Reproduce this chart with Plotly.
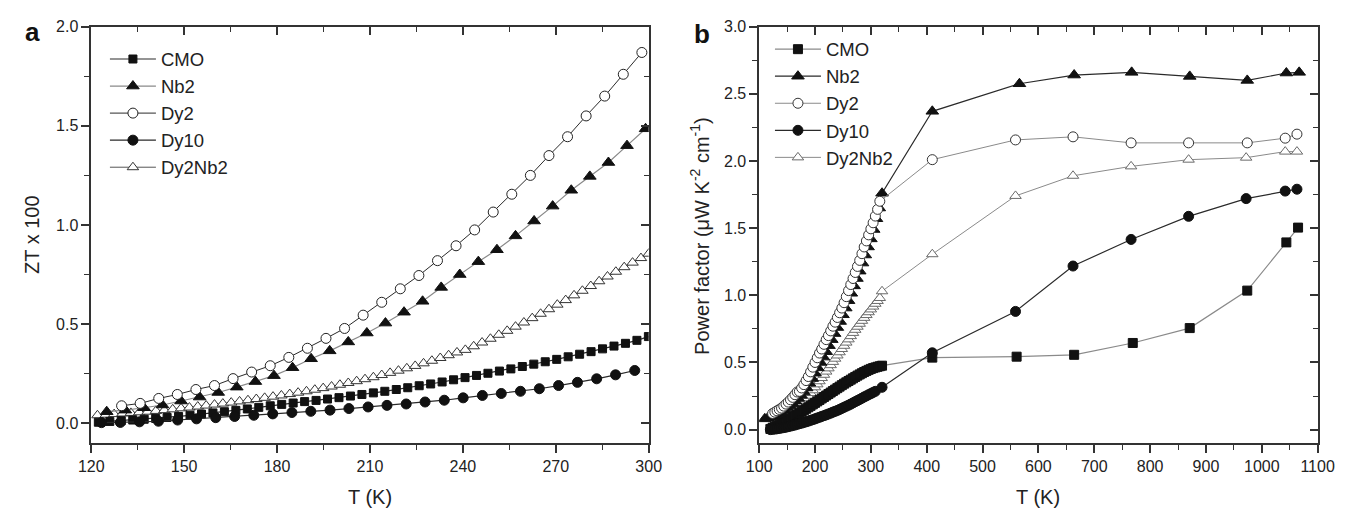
import plotly.graph_objects as go

# ---------------- Panel a : ZT x 100 vs T ----------------
a_cmo_T = [122.3, 126.0, 129.7, 133.4, 137.1, 140.8, 144.5, 148.2, 151.9, 155.6, 159.3, 163.0, 166.7, 170.4,
           174.1, 177.8, 181.5, 185.2, 188.9, 192.6, 196.3, 200.0, 203.7, 207.4, 211.1, 214.8, 218.5, 222.2,
           225.9, 229.6, 233.3, 237.0, 240.7, 244.4, 248.1, 251.8, 255.5, 259.2, 262.9, 266.6, 270.3, 274.0,
           277.7, 281.4, 285.1, 288.8, 292.5, 296.2, 299.9]
a_cmo_ZT = [0.005, 0.009, 0.013, 0.016, 0.020, 0.024, 0.029, 0.034, 0.040, 0.046, 0.052, 0.058, 0.065, 0.072,
            0.080, 0.088, 0.095, 0.102, 0.109, 0.115, 0.122, 0.129, 0.137, 0.145, 0.153, 0.161, 0.170, 0.179,
            0.189, 0.198, 0.208, 0.219, 0.230, 0.241, 0.252, 0.263, 0.274, 0.286, 0.298, 0.310, 0.322, 0.335,
            0.348, 0.361, 0.375, 0.389, 0.403, 0.418, 0.437]

a_nb2_T = [125, 131, 137, 143, 149, 155, 161, 167, 173, 179, 185, 191, 197, 203, 209, 215, 221, 227, 233, 239,
           245, 251, 257, 263, 269, 275, 281, 287, 293, 299]
a_nb2_ZT = [0.058, 0.066, 0.078, 0.092, 0.112, 0.132, 0.155, 0.182, 0.210, 0.240, 0.280, 0.325, 0.365, 0.410,
            0.455, 0.505, 0.560, 0.615, 0.685, 0.750, 0.815, 0.875, 0.945, 1.020, 1.095, 1.175, 1.245, 1.315,
            1.400, 1.485]

a_dy2_T = [129.8, 135.8, 141.8, 147.8, 153.8, 159.8, 165.8, 171.8, 177.8, 183.8, 189.8, 195.8, 201.8, 207.8,
           213.8, 219.8, 225.8, 231.8, 237.8, 243.8, 249.8, 255.8, 261.8, 267.8, 273.8, 279.8, 285.8, 291.8, 297.8]
a_dy2_ZT = [0.088, 0.100, 0.125, 0.145, 0.170, 0.190, 0.225, 0.258, 0.290, 0.332, 0.378, 0.428, 0.478, 0.545,
            0.610, 0.678, 0.745, 0.820, 0.895, 0.975, 1.065, 1.155, 1.250, 1.350, 1.445, 1.550, 1.650, 1.760, 1.870]

a_dy10_T = [123.3, 129.4, 135.6, 141.7, 147.9, 154.0, 160.2, 166.3, 172.5, 178.6, 184.8, 190.9, 197.1, 203.2,
            209.4, 215.5, 221.7, 227.8, 234.0, 240.1, 246.3, 252.4, 258.6, 264.7, 270.9, 277.0, 283.2, 289.3, 295.5]
a_dy10_ZT = [0.003, 0.004, 0.007, 0.010, 0.016, 0.022, 0.028, 0.034, 0.040, 0.047, 0.054, 0.060, 0.066, 0.074,
             0.082, 0.090, 0.097, 0.107, 0.116, 0.128, 0.140, 0.150, 0.161, 0.174, 0.190, 0.206, 0.224, 0.244, 0.266]

a_dy2nb2_T = [122.0, 124.7, 127.4, 130.1, 132.8, 135.5, 138.2, 140.9, 143.6, 146.3, 149.0, 151.7, 154.4, 157.1,
              159.8, 162.5, 165.2, 167.9, 170.6, 173.3, 176.0, 178.7, 181.4, 184.1, 186.8, 189.5, 192.2, 194.9,
              197.6, 200.3, 203.0, 205.7, 208.4, 211.1, 213.8, 216.5, 219.2, 221.9, 224.6, 227.3, 230.0, 232.7,
              235.4, 238.1, 240.8, 243.5, 246.2, 248.9, 251.6, 254.3, 257.0, 259.7, 262.4, 265.1, 267.8, 270.5,
              273.2, 275.9, 278.6, 281.3, 284.0, 286.7, 289.4, 292.1, 294.8, 297.5, 300.0]
a_dy2nb2_ZT = [0.040, 0.043, 0.046, 0.049, 0.052, 0.055, 0.058, 0.062, 0.066, 0.070,
               0.075, 0.079, 0.084, 0.089, 0.094, 0.099, 0.104, 0.110, 0.116, 0.122,
               0.128, 0.134, 0.140, 0.147, 0.154, 0.161, 0.169, 0.177, 0.185, 0.194,
               0.203, 0.212, 0.222, 0.232, 0.243, 0.254, 0.265, 0.277, 0.289, 0.302,
               0.315, 0.329, 0.343, 0.357,
               0.370, 0.388, 0.407, 0.426, 0.446, 0.466, 0.487, 0.508, 0.530, 0.552, 0.575, 0.598,
               0.621, 0.645, 0.668, 0.692, 0.716, 0.740, 0.764, 0.787, 0.810, 0.833, 0.855]

# ---------------- Panel b : power factor vs T ----------------
b_cmo_T = [120, 124, 128, 132, 136, 140, 144, 148, 152, 156, 160, 164, 168, 172, 176, 180, 184, 188, 192, 196,
           200, 204, 208, 212, 216, 220, 224, 228, 232, 236, 240, 244, 248, 252, 256, 260, 264, 268, 272, 276,
           280, 284, 288, 292, 296, 300, 304, 308, 312, 316, 320, 410, 561, 664, 769, 871, 974, 1044, 1065]
b_cmo_PF = [0.005, 0.012, 0.020, 0.028, 0.036, 0.045, 0.054, 0.063, 0.072, 0.082, 0.092, 0.102, 0.112, 0.122,
            0.133, 0.144, 0.155, 0.166, 0.177, 0.188, 0.199, 0.210, 0.221, 0.232, 0.243, 0.254, 0.265, 0.276,
            0.287, 0.298, 0.309, 0.320, 0.331, 0.342, 0.352, 0.362, 0.372, 0.382, 0.392, 0.402, 0.411, 0.420,
            0.429, 0.437, 0.445, 0.452, 0.458, 0.463, 0.468, 0.472, 0.476, 0.536, 0.543, 0.557, 0.645, 0.756,
            1.035, 1.394, 1.504]

b_nb2_T = [110, 115, 120, 125, 130, 135, 140, 145, 150, 155, 160, 165, 170, 175, 180, 185, 190, 195, 200, 205,
           210, 215, 220, 225, 230, 235, 240, 245, 250, 255, 260, 265, 270, 275, 280, 285, 290, 295, 300, 305,
           310, 315, 320, 410, 566, 664, 767, 871, 974, 1044, 1067]
b_nb2_PF = [0.080, 0.085, 0.092, 0.100, 0.110, 0.120, 0.132, 0.145, 0.160, 0.176, 0.193, 0.212, 0.232, 0.255,
            0.280, 0.310, 0.345, 0.380, 0.420, 0.460, 0.500, 0.540, 0.580, 0.625, 0.670, 0.715, 0.760, 0.805,
            0.855, 0.905, 0.960, 1.015, 1.070, 1.125, 1.180, 1.240, 1.300, 1.360, 1.420, 1.490, 1.570, 1.650,
            1.760, 2.370, 2.575, 2.640, 2.660, 2.630, 2.600, 2.655, 2.660]

b_dy2_T = [124, 128, 132, 136, 140, 144, 148, 152, 156, 160, 164, 168, 172, 176, 180, 184, 188, 192, 196, 200,
           204, 208, 212, 216, 220, 224, 228, 232, 236, 240, 244, 248, 252, 256, 260, 264, 268, 272, 276, 280,
           284, 288, 292, 296, 300, 304, 308, 312, 316, 410, 559, 662, 766, 869, 974, 1042, 1063]
b_dy2_PF = [0.120, 0.130, 0.140, 0.150, 0.160, 0.175, 0.190, 0.205, 0.222, 0.240, 0.260, 0.280, 0.285, 0.310,
            0.335, 0.365, 0.395, 0.430, 0.465, 0.500, 0.535, 0.570, 0.600, 0.635, 0.670, 0.700, 0.735, 0.770,
            0.800, 0.835, 0.870, 0.905, 0.945, 0.990, 1.035, 1.080, 1.125, 1.170, 1.215, 1.260, 1.310, 1.360,
            1.405, 1.450, 1.495, 1.540, 1.590, 1.640, 1.700, 2.010, 2.157, 2.180, 2.135, 2.135, 2.135, 2.170, 2.200]

b_dy10_T = [120, 124, 128, 132, 136, 140, 144, 148, 152, 156, 160, 164, 168, 172, 176, 180, 184, 188, 192, 196,
            200, 204, 208, 212, 216, 220, 224, 228, 232, 236, 240, 244, 248, 252, 256, 260, 264, 268, 272, 276,
            280, 284, 288, 292, 296, 300, 304, 308, 320, 410, 559, 662, 766, 869, 972, 1042, 1063]
b_dy10_PF = [0.000, 0.002, 0.004, 0.006, 0.009, 0.012, 0.015, 0.018, 0.022, 0.026, 0.030, 0.034, 0.039, 0.044,
             0.048, 0.053, 0.058, 0.063, 0.069, 0.074, 0.080, 0.086, 0.092, 0.098, 0.104, 0.110, 0.116, 0.123,
             0.130, 0.136, 0.143, 0.150, 0.158, 0.166, 0.174, 0.182, 0.190, 0.199, 0.208, 0.216, 0.225, 0.234,
             0.243, 0.251, 0.260, 0.268, 0.277, 0.285, 0.315, 0.572, 0.880, 1.218, 1.416, 1.588, 1.720, 1.776, 1.790]

b_dy2nb2_T = [124, 128, 132, 136, 140, 144, 148, 152, 156, 160, 164, 168, 172, 176, 180, 184, 188, 192, 196, 200,
              204, 208, 212, 216, 220, 224, 228, 232, 236, 240, 244, 248, 252, 256, 260, 264, 268, 272, 276, 280,
              284, 288, 292, 296, 300, 304, 308, 312, 316, 320, 410, 559, 662, 766, 869, 972, 1042, 1063]
b_dy2nb2_PF = [0.050, 0.058, 0.066, 0.075, 0.084, 0.094, 0.105, 0.116, 0.128, 0.140, 0.153, 0.167, 0.182, 0.198,
               0.215, 0.233, 0.252, 0.272, 0.293, 0.315, 0.337, 0.360, 0.384, 0.408, 0.432, 0.456, 0.480, 0.504,
               0.528, 0.552, 0.576, 0.600, 0.624, 0.648, 0.672, 0.696, 0.720, 0.743, 0.766, 0.788, 0.810, 0.832,
               0.853, 0.874, 0.895, 0.916, 0.937, 0.958, 0.980, 1.030, 1.306, 1.740, 1.890, 1.960, 2.010, 2.025,
               2.070, 2.070]

series_names = ["CMO", "Nb2", "Dy2", "Dy10", "Dy2Nb2"]

# ---------------- styling ----------------
W, H = 1362, 508
FONT = "Liberation Sans, Arial, Helvetica, sans-serif"
DARK = "#2a2a2a"
GRAY = "#8a8a8a"


def px_x(p):
    return p / W


def px_y(p):
    return 1 - p / H


a_dom_x = [px_x(80), px_x(650)]
b_dom_x = [px_x(763), px_x(1334)]
dom_y = [px_y(442), px_y(19)]

styles_a = {
    "CMO": dict(symbol="square", size=8, color="#111", lc=DARK, lw=1.2, open=False),
    "Nb2": dict(symbol="triangle-up", size=11, color="#111", lc=GRAY, lw=1.2, open=False),
    "Dy2": dict(symbol="circle", size=10, color="white", lc=DARK, lw=1.0, open=True),
    "Dy10": dict(symbol="circle", size=10, color="#111", lc=DARK, lw=1.2, open=False),
    "Dy2Nb2": dict(symbol="triangle-up", size=10, color="white", lc="#555", lw=1.0, open=True),
}
styles_b = {
    "CMO": dict(symbol="square", size=9, color="#111", lc=GRAY, lw=1.2, open=False),
    "Nb2": dict(symbol="triangle-up", size=11, color="#111", lc=DARK, lw=1.2, open=False),
    "Dy2": dict(symbol="circle", size=10, color="white", lc=GRAY, lw=1.0, open=True),
    "Dy10": dict(symbol="circle", size=10, color="#111", lc=DARK, lw=1.2, open=False),
    "Dy2Nb2": dict(symbol="triangle-up", size=10, color="white", lc=GRAY, lw=1.0, open=True),
}

data_a = {
    "CMO": (a_cmo_T, a_cmo_ZT), "Nb2": (a_nb2_T, a_nb2_ZT), "Dy2": (a_dy2_T, a_dy2_ZT),
    "Dy10": (a_dy10_T, a_dy10_ZT), "Dy2Nb2": (a_dy2nb2_T, a_dy2nb2_ZT),
}
data_b = {
    "CMO": (b_cmo_T, b_cmo_PF), "Nb2": (b_nb2_T, b_nb2_PF), "Dy2": (b_dy2_T, b_dy2_PF),
    "Dy10": (b_dy10_T, b_dy10_PF), "Dy2Nb2": (b_dy2nb2_T, b_dy2nb2_PF),
}

fig = go.Figure()

# draw order so open markers sit on top of filled ones like in the original
order = ["Dy2Nb2", "CMO", "Dy10", "Nb2", "Dy2"]
legend_rank = {n: i for i, n in enumerate(series_names)}


def add_series(data, styles, xa, ya, legend, open_edge):
    for name in order:
        x, y = data[name]
        s = styles[name]
        edge = open_edge[name] if s["open"] else "#111"
        fig.add_trace(go.Scatter(
            x=x, y=y, mode="lines+markers", name=name,
            xaxis=xa, yaxis=ya, legend=legend, legendrank=legend_rank[name] + 1,
            line=dict(color=s["lc"], width=s["lw"]),
            marker=dict(symbol=s["symbol"], size=s["size"], color=s["color"],
                        line=dict(color=edge, width=1)),
            hoverinfo="skip",
        ))


add_series(data_a, styles_a, "x", "y", "legend",
           {"Dy2": "#222", "Dy2Nb2": "#333"})
add_series(data_b, styles_b, "x2", "y2", "legend2",
           {"Dy2": "#333", "Dy2Nb2": "#6a6a6a"})


# invisible helper traces so that the top / right tick axes get drawn
def helper(x, y, xa, ya):
    fig.add_trace(go.Scatter(x=x, y=y, xaxis=xa, yaxis=ya, mode="markers",
                             marker=dict(opacity=0, size=1), showlegend=False, hoverinfo="skip"))


helper(a_dy2_T[:1], a_dy2_ZT[:1], "x3", "y")
helper(a_dy2_T[:1], a_dy2_ZT[:1], "x", "y3")
helper(b_dy2_T[:1], b_dy2_PF[:1], "x4", "y2")
helper(b_dy2_T[:1], b_dy2_PF[:1], "x2", "y4")

tickfont = dict(family=FONT, size=16, color="#222")
AX_LINE = "#333"


def main_x(dom, rng, dt, minor_dt, anchor):
    return dict(domain=dom, range=rng, dtick=dt, tick0=rng[0], anchor=anchor, mirror=True,
                showgrid=False, zeroline=False, showline=True, linecolor=AX_LINE, linewidth=1.5,
                ticks="outside", ticklen=8, tickwidth=1.5, tickcolor=AX_LINE, tickfont=tickfont,
                minor=dict(dtick=minor_dt, ticks="outside", ticklen=5, tickwidth=1.2, tickcolor=AX_LINE,
                           showgrid=False))


def main_y(rng, dt, minor_dt, anchor):
    return dict(domain=dom_y, range=rng, dtick=dt, tick0=0, anchor=anchor, tickformat=".1f", mirror=True,
                showgrid=False, zeroline=False, showline=True, linecolor=AX_LINE, linewidth=1.5,
                ticks="outside", ticklen=8, tickwidth=1.5, tickcolor=AX_LINE, tickfont=tickfont,
                minor=dict(dtick=minor_dt, ticks="outside", ticklen=5, tickwidth=1.2, tickcolor=AX_LINE,
                           showgrid=False))


def mirror_x(over, rng, dt, minor_dt, anchor):
    return dict(overlaying=over, range=rng, dtick=dt, tick0=rng[0], anchor=anchor, side="top",
                showgrid=False, zeroline=False, showline=False,
                ticks="inside", ticklen=8, tickwidth=1.5, tickcolor=AX_LINE, showticklabels=False,
                minor=dict(dtick=minor_dt, ticks="inside", ticklen=5, tickwidth=1.2, tickcolor=AX_LINE,
                           showgrid=False))


def mirror_y(over, rng, dt, minor_dt, anchor):
    return dict(overlaying=over, range=rng, dtick=dt, tick0=0, anchor=anchor, side="right",
                showgrid=False, zeroline=False, showline=False,
                ticks="inside", ticklen=8, tickwidth=1.5, tickcolor=AX_LINE, showticklabels=False,
                minor=dict(dtick=minor_dt, ticks="inside", ticklen=5, tickwidth=1.2, tickcolor=AX_LINE,
                           showgrid=False))


a_xrange, a_yrange = [120, 300], [-0.1, 2.0]
b_xrange, b_yrange = [100, 1100], [-0.1, 3.0]

legend_common = dict(font=dict(family=FONT, size=18.5, color="#222"), bgcolor="rgba(0,0,0,0)",
                     borderwidth=0, itemwidth=46, tracegroupgap=0, traceorder="normal",
                     xanchor="left", yanchor="top")

fig.update_layout(
    width=W, height=H, margin=dict(l=0, r=0, t=0, b=0),
    paper_bgcolor="white", plot_bgcolor="rgba(0,0,0,0)",
    font=dict(family=FONT, color="#222"),
    xaxis=main_x(a_dom_x, a_xrange, 30, 15, "y"),
    yaxis=main_y(a_yrange, 0.5, 0.25, "x"),
    xaxis2=main_x(b_dom_x, b_xrange, 100, 50, "y2"),
    yaxis2=main_y(b_yrange, 0.5, 0.25, "x2"),
    xaxis3=mirror_x("x", a_xrange, 30, 15, "y"),
    yaxis3=mirror_y("y", a_yrange, 0.5, 0.25, "x"),
    xaxis4=mirror_x("x2", b_xrange, 100, 50, "y2"),
    yaxis4=mirror_y("y2", b_yrange, 0.5, 0.25, "x2"),
    legend=dict(x=px_x(94), y=px_y(33), **legend_common),
    legend2=dict(x=px_x(774), y=px_y(23), **legend_common),
    showlegend=True,
)

ann_font = dict(family=FONT, size=20, color="#222")
fig.add_annotation(text="T (K)", x=(a_dom_x[0] + a_dom_x[1]) / 2, y=px_y(497), xref="paper", yref="paper",
                   showarrow=False, font=ann_font, xanchor="center", yanchor="middle")
fig.add_annotation(text="T (K)", x=(b_dom_x[0] + b_dom_x[1]) / 2, y=px_y(497), xref="paper", yref="paper",
                   showarrow=False, font=ann_font, xanchor="center", yanchor="middle")
fig.add_annotation(text="ZT x 100", x=px_x(20), y=px_y(230), xref="paper", yref="paper", textangle=-90,
                   showarrow=False, font=ann_font, xanchor="center", yanchor="middle")
fig.add_annotation(text="Power factor (\u03bcW K<sup>-2</sup> cm<sup>-1</sup>)", x=px_x(702), y=px_y(232),
                   xref="paper", yref="paper", textangle=-90,
                   showarrow=False, font=ann_font, xanchor="center", yanchor="middle")
fig.add_annotation(text="<b>a</b>", x=px_x(20), y=px_y(24), xref="paper", yref="paper",
                   showarrow=False, font=dict(family=FONT, size=26, color="#111"), xanchor="center",
                   yanchor="middle")
fig.add_annotation(text="<b>b</b>", x=px_x(705), y=px_y(26), xref="paper", yref="paper",
                   showarrow=False, font=dict(family=FONT, size=26, color="#111"), xanchor="center",
                   yanchor="middle")

fig.write_html("out.html")
